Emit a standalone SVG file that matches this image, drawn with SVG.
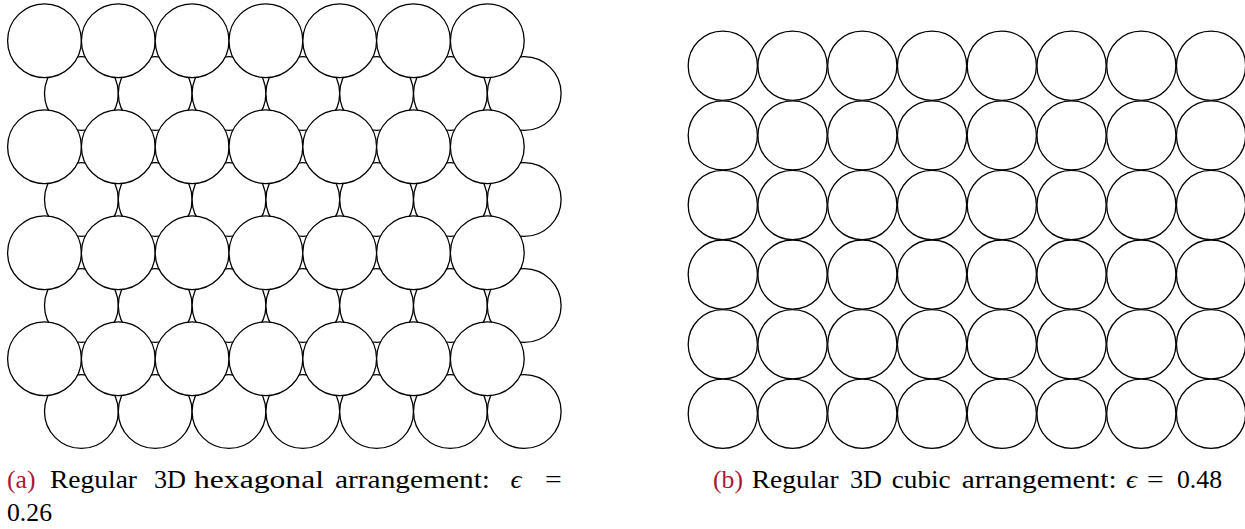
<svg xmlns="http://www.w3.org/2000/svg" xmlns:xlink="http://www.w3.org/1999/xlink" width="1245" height="529" viewBox="0 0 1245 529">
<style>
.c{fill:#fff;stroke:#000;stroke-width:1.3}
.t{font-family:"Liberation Serif","Times New Roman",serif;font-size:24.5px;fill:#000}
.r{fill:#ad1737}
.m{font-style:italic}
</style>
<defs>
<circle id="h" r="36.9" class="c"/>
<circle id="q" r="34.6" class="c"/>
</defs>
<rect width="1245" height="529" fill="#fff"/>
<g id="hexagonal">
<g id="hex-back">
<use xlink:href="#h" x="81.4" y="93.5"/><use xlink:href="#h" x="155.2" y="93.5"/><use xlink:href="#h" x="229" y="93.5"/><use xlink:href="#h" x="302.8" y="93.5"/><use xlink:href="#h" x="376.6" y="93.5"/><use xlink:href="#h" x="450.4" y="93.5"/><use xlink:href="#h" x="524.2" y="93.5"/>
<use xlink:href="#h" x="81.4" y="199.5"/><use xlink:href="#h" x="155.2" y="199.5"/><use xlink:href="#h" x="229" y="199.5"/><use xlink:href="#h" x="302.8" y="199.5"/><use xlink:href="#h" x="376.6" y="199.5"/><use xlink:href="#h" x="450.4" y="199.5"/><use xlink:href="#h" x="524.2" y="199.5"/>
<use xlink:href="#h" x="81.4" y="305.5"/><use xlink:href="#h" x="155.2" y="305.5"/><use xlink:href="#h" x="229" y="305.5"/><use xlink:href="#h" x="302.8" y="305.5"/><use xlink:href="#h" x="376.6" y="305.5"/><use xlink:href="#h" x="450.4" y="305.5"/><use xlink:href="#h" x="524.2" y="305.5"/>
<use xlink:href="#h" x="81.4" y="411.5"/><use xlink:href="#h" x="155.2" y="411.5"/><use xlink:href="#h" x="229" y="411.5"/><use xlink:href="#h" x="302.8" y="411.5"/><use xlink:href="#h" x="376.6" y="411.5"/><use xlink:href="#h" x="450.4" y="411.5"/><use xlink:href="#h" x="524.2" y="411.5"/>
</g>
<g id="hex-front">
<use xlink:href="#h" x="44.5" y="40.7"/><use xlink:href="#h" x="118.3" y="40.7"/><use xlink:href="#h" x="192.1" y="40.7"/><use xlink:href="#h" x="265.9" y="40.7"/><use xlink:href="#h" x="339.7" y="40.7"/><use xlink:href="#h" x="413.5" y="40.7"/><use xlink:href="#h" x="487.3" y="40.7"/>
<use xlink:href="#h" x="44.5" y="146.7"/><use xlink:href="#h" x="118.3" y="146.7"/><use xlink:href="#h" x="192.1" y="146.7"/><use xlink:href="#h" x="265.9" y="146.7"/><use xlink:href="#h" x="339.7" y="146.7"/><use xlink:href="#h" x="413.5" y="146.7"/><use xlink:href="#h" x="487.3" y="146.7"/>
<use xlink:href="#h" x="44.5" y="252.7"/><use xlink:href="#h" x="118.3" y="252.7"/><use xlink:href="#h" x="192.1" y="252.7"/><use xlink:href="#h" x="265.9" y="252.7"/><use xlink:href="#h" x="339.7" y="252.7"/><use xlink:href="#h" x="413.5" y="252.7"/><use xlink:href="#h" x="487.3" y="252.7"/>
<use xlink:href="#h" x="44.5" y="358.7"/><use xlink:href="#h" x="118.3" y="358.7"/><use xlink:href="#h" x="192.1" y="358.7"/><use xlink:href="#h" x="265.9" y="358.7"/><use xlink:href="#h" x="339.7" y="358.7"/><use xlink:href="#h" x="413.5" y="358.7"/><use xlink:href="#h" x="487.3" y="358.7"/>
</g>
</g>
<g id="cubic">
<use xlink:href="#q" x="722.8" y="65.8"/><use xlink:href="#q" x="792.55" y="65.8"/><use xlink:href="#q" x="862.3" y="65.8"/><use xlink:href="#q" x="932.05" y="65.8"/><use xlink:href="#q" x="1001.8" y="65.8"/><use xlink:href="#q" x="1071.55" y="65.8"/><use xlink:href="#q" x="1141.3" y="65.8"/><use xlink:href="#q" x="1211.05" y="65.8"/>
<use xlink:href="#q" x="722.8" y="135.4"/><use xlink:href="#q" x="792.55" y="135.4"/><use xlink:href="#q" x="862.3" y="135.4"/><use xlink:href="#q" x="932.05" y="135.4"/><use xlink:href="#q" x="1001.8" y="135.4"/><use xlink:href="#q" x="1071.55" y="135.4"/><use xlink:href="#q" x="1141.3" y="135.4"/><use xlink:href="#q" x="1211.05" y="135.4"/>
<use xlink:href="#q" x="722.8" y="205"/><use xlink:href="#q" x="792.55" y="205"/><use xlink:href="#q" x="862.3" y="205"/><use xlink:href="#q" x="932.05" y="205"/><use xlink:href="#q" x="1001.8" y="205"/><use xlink:href="#q" x="1071.55" y="205"/><use xlink:href="#q" x="1141.3" y="205"/><use xlink:href="#q" x="1211.05" y="205"/>
<use xlink:href="#q" x="722.8" y="274.6"/><use xlink:href="#q" x="792.55" y="274.6"/><use xlink:href="#q" x="862.3" y="274.6"/><use xlink:href="#q" x="932.05" y="274.6"/><use xlink:href="#q" x="1001.8" y="274.6"/><use xlink:href="#q" x="1071.55" y="274.6"/><use xlink:href="#q" x="1141.3" y="274.6"/><use xlink:href="#q" x="1211.05" y="274.6"/>
<use xlink:href="#q" x="722.8" y="344.2"/><use xlink:href="#q" x="792.55" y="344.2"/><use xlink:href="#q" x="862.3" y="344.2"/><use xlink:href="#q" x="932.05" y="344.2"/><use xlink:href="#q" x="1001.8" y="344.2"/><use xlink:href="#q" x="1071.55" y="344.2"/><use xlink:href="#q" x="1141.3" y="344.2"/><use xlink:href="#q" x="1211.05" y="344.2"/>
<use xlink:href="#q" x="722.8" y="413.8"/><use xlink:href="#q" x="792.55" y="413.8"/><use xlink:href="#q" x="862.3" y="413.8"/><use xlink:href="#q" x="932.05" y="413.8"/><use xlink:href="#q" x="1001.8" y="413.8"/><use xlink:href="#q" x="1071.55" y="413.8"/><use xlink:href="#q" x="1141.3" y="413.8"/><use xlink:href="#q" x="1211.05" y="413.8"/>
</g>
<g id="caption-a" class="t">
<text x="7" y="488" class="r" textLength="28.5" lengthAdjust="spacingAndGlyphs">(a)</text>
<text x="50" y="488" textLength="87" lengthAdjust="spacingAndGlyphs">Regular</text>
<text x="154" y="488" textLength="32" lengthAdjust="spacingAndGlyphs">3D</text>
<text x="194" y="488" textLength="130" lengthAdjust="spacingAndGlyphs">hexagonal</text>
<text x="335" y="488" textLength="155" lengthAdjust="spacingAndGlyphs">arrangement:</text>
<text x="510.5" y="488" class="m" textLength="11" lengthAdjust="spacingAndGlyphs">ϵ</text>
<text x="545" y="488" textLength="16.7" lengthAdjust="spacingAndGlyphs">=</text>
<text x="7" y="521" textLength="45" lengthAdjust="spacingAndGlyphs">0.26</text>
</g>
<g id="caption-b" class="t">
<text x="713" y="488" class="r" textLength="30" lengthAdjust="spacingAndGlyphs">(b)</text>
<text x="751.7" y="488" textLength="87" lengthAdjust="spacingAndGlyphs">Regular</text>
<text x="850" y="488" textLength="32" lengthAdjust="spacingAndGlyphs">3D</text>
<text x="891.7" y="488" textLength="59" lengthAdjust="spacingAndGlyphs">cubic</text>
<text x="961.7" y="488" textLength="155" lengthAdjust="spacingAndGlyphs">arrangement:</text>
<text x="1126" y="488" class="m" textLength="11" lengthAdjust="spacingAndGlyphs">ϵ</text>
<text x="1147" y="488" textLength="16.7" lengthAdjust="spacingAndGlyphs">=</text>
<text x="1177" y="488" textLength="45" lengthAdjust="spacingAndGlyphs">0.48</text>
</g>
</svg>
